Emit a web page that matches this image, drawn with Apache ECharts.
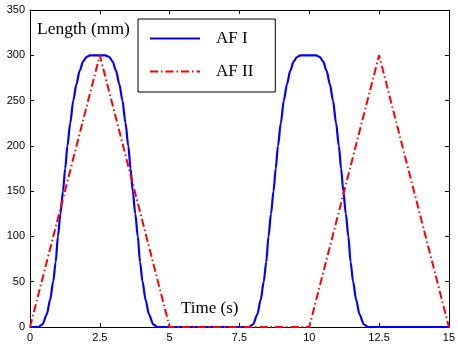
<!DOCTYPE html>
<html lang="en">
<head>
    <meta charset="UTF-8">
    <title>AF I / AF II length</title>
    <script src="https://cdn.jsdelivr.net/npm/echarts@6/dist/echarts.min.js"></script>
    <style>
        html, body { margin: 0; padding: 0; background: #fff; }
        #chart { width: 458px; height: 347px; }
    </style>
</head>
<body>
    <div id="chart"></div>
    <script>
        // 轴刻度
        let xTicks = [0, 2.5, 5, 7.5, 10, 12.5, 15];
        let yMax = 350;
        let yStep = 50;

        // AF I: 平滑脉冲 [时间, 长度]
        let afI = [
            [0, 0], [0.30, 0], [0.45, 3], [0.60, 14], [0.72, 30], [0.83, 50], [0.92, 72],
            [1.00, 100], [1.09, 125], [1.18, 150], [1.26, 175], [1.34, 200], [1.44, 225],
            [1.55, 250], [1.66, 268], [1.78, 283], [1.90, 293], [2.02, 298], [2.15, 300],
            [2.70, 300], [2.84, 298], [2.96, 293], [3.08, 283], [3.20, 268], [3.31, 250],
            [3.42, 225], [3.52, 200], [3.60, 175], [3.68, 150], [3.77, 125], [3.86, 100],
            [3.94, 72], [4.03, 50], [4.14, 30], [4.26, 14], [4.41, 3], [4.56, 0],
            [7.84, 0], [7.99, 3], [8.14, 14], [8.26, 30], [8.37, 50], [8.46, 72],
            [8.54, 100], [8.63, 125], [8.72, 150], [8.80, 175], [8.88, 200], [8.98, 225],
            [9.09, 250], [9.20, 268], [9.32, 283], [9.44, 293], [9.56, 298], [9.69, 300],
            [10.24, 300], [10.38, 298], [10.50, 293], [10.62, 283], [10.74, 268], [10.85, 250],
            [10.96, 225], [11.06, 200], [11.14, 175], [11.22, 150], [11.31, 125], [11.40, 100],
            [11.48, 72], [11.57, 50], [11.68, 30], [11.80, 14], [11.95, 3], [12.10, 0],
            [15, 0]
        ];

        // AF II: 三角波
        let afII = [
            [0, 0], [2.5, 300], [5, 0], [10, 0], [12.5, 300], [15, 0]
        ];

        let tickFont = { color: '#000', fontSize: 11, fontFamily: 'Liberation Sans, Arial, sans-serif' };
        let serif = 'Liberation Serif, Times New Roman, serif';

        function makeX(position, showLabel) {
            return {
                type: 'value', position: position,
                min: xTicks[0], max: xTicks[xTicks.length - 1], interval: 2.5,
                axisLine: { show: true, onZero: false, lineStyle: { color: '#000', width: 1 } },
                axisTick: { show: true, inside: true, length: 4, lineStyle: { color: '#000' } },
                axisLabel: { show: showLabel, margin: 5, ...tickFont },
                splitLine: { show: false }
            };
        }
        function makeY(position, showLabel) {
            return {
                type: 'value', position: position,
                min: 0, max: yMax, interval: yStep,
                axisLine: { show: true, onZero: false, lineStyle: { color: '#000', width: 1 } },
                axisTick: { show: true, inside: true, length: 4, lineStyle: { color: '#000' } },
                axisLabel: { show: showLabel, margin: 5, ...tickFont },
                splitLine: { show: false }
            };
        }

        let chart = echarts.init(document.getElementById('chart'));
        chart.setOption({
            animation: false,
            backgroundColor: '#fff',
            grid: { left: 30, right: 6, top: 10, bottom: 20 },
            xAxis: [makeX('bottom', true), makeX('top', false)],
            yAxis: [makeY('left', true), makeY('right', false)],
            legend: {
                orient: 'vertical',
                left: 138, top: 19,
                padding: [11, 22, 12, 11],
                itemGap: 16,
                itemWidth: 50,
                itemHeight: 14,
                borderColor: '#000',
                borderWidth: 1,
                backgroundColor: '#fff',
                itemStyle: { opacity: 0 },
                textStyle: { fontFamily: serif, fontSize: 17, color: '#000', padding: [0, 0, 0, 11] },
                data: ['AF I', 'AF II']
            },
            graphic: [
                { type: 'text', left: 37, top: 20, style: { text: 'Length (mm)', font: '17.5px ' + serif, fill: '#000' } },
                { type: 'text', left: 181, top: 300, style: { text: 'Time (s)', font: '17px ' + serif, fill: '#000' } }
            ],
            series: [
                {
                    name: 'AF I', type: 'line', data: afI,
                    symbol: 'none', smooth: 0.3, smoothMonotone: 'x',
                    lineStyle: { color: '#0000ff', width: 2.2 },
                    itemStyle: { color: '#0000ff' }
                },
                {
                    name: 'AF II', type: 'line', data: afII,
                    symbol: 'none',
                    lineStyle: { color: '#ff0000', width: 2, type: [8, 3, 1.5, 3] },
                    itemStyle: { color: '#ff0000' }
                }
            ]
        });
    </script>
</body>
</html>
